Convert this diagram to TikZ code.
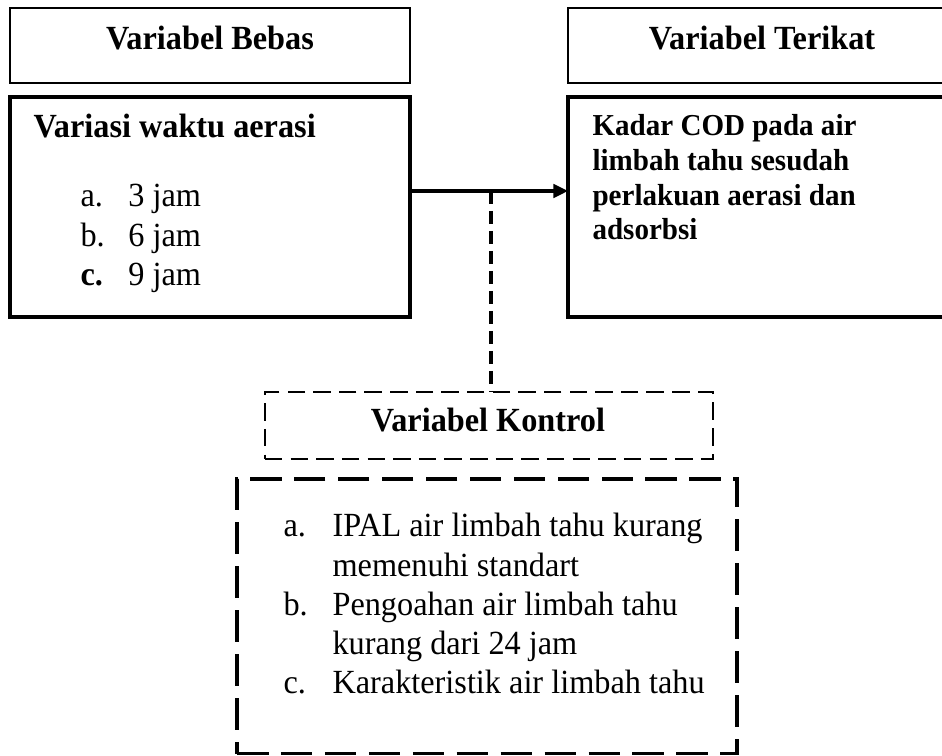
\documentclass[tikz,border=0pt]{standalone}
\usepackage{fontspec}
\setmainfont{Liberation Serif}[FakeStretch=0.955]
\usetikzlibrary{arrows.meta}

\begin{document}
\begin{tikzpicture}[
    x=0.355pt, y=-0.355pt,
    >={Triangle[length=5.2pt, width=4.8pt]},
    font=\fontsize{12}{13.85}\selectfont,
    headbox/.style={draw, line width=0.55pt, inner sep=0pt, outer sep=0pt, anchor=north west},
    bodybox/.style={draw, line width=1.1pt, inner sep=0pt, outer sep=0pt, anchor=north west},
    ctrlhead/.style={draw, line width=0.75pt, dash pattern=on 6.2pt off 2.9pt, inner sep=0pt, outer sep=0pt, anchor=north west},
    ctrlbody/.style={draw, line width=1.1pt, dash pattern=on 11.2pt off 4.4pt, inner sep=0pt, outer sep=0pt, anchor=north west},
    title/.style={anchor=base, inner sep=0pt, font=\fontsize{12}{13.85}\selectfont\bfseries},
    listtext/.style={anchor=base west, inner sep=0pt},
    arrow/.style={->, line width=1.1pt},
    ctrlline/.style={line width=1.1pt, dash pattern=on 4.6pt off 2.5pt}
]
\clip (0,0) rectangle (942,756);

% Variabel bebas
\node[headbox, minimum width=142pt, minimum height=26.6pt] (bebas) at (10,8) {};
\node[title] (bebasLbl) at (210,50) {Variabel Bebas};
\node[bodybox, minimum width=142pt, minimum height=78.1pt] (waktu) at (10,97) {};
\node[title, anchor=base west] (waktuLbl) at (33,138) {Variasi waktu aerasi};
\node[listtext] (waktuList) at (80,207) {%
    \begin{tabular}[t]{@{}p{17pt}@{}l@{}}
        a. & 3 jam\\
        b. & 6 jam\\
        \textbf{c.} & 9 jam
    \end{tabular}};

% Variabel terikat
\node[headbox, minimum width=138.5pt, minimum height=26.6pt] (terikat) at (568,8) {};
\node[title] (terikatLbl) at (762,50) {Variabel Terikat};
\node[bodybox, minimum width=138.5pt, minimum height=78.1pt] (kadar) at (568,97) {};
\node[listtext, font=\fontsize{10.8}{12.3}\selectfont\bfseries] (kadarLbl) at (592,136) {%
    \begin{tabular}[t]{@{}l@{}}
        Kadar COD pada air\\
        limbah tahu sesudah\\
        perlakuan aerasi dan\\
        adsorbsi
    \end{tabular}};

% Variabel kontrol
\node[ctrlhead, minimum width=159pt, minimum height=23.8pt] (kontrol) at (265,392) {};
\node[title] (kontrolLbl) at (488,432) {Variabel Kontrol};
\node[ctrlbody, minimum width=177.5pt, minimum height=97.6pt] (faktor) at (237,479) {};
\node[listtext] (faktorList) at (283,537) {%
    \begin{tabular}[t]{@{}p{17.4pt}@{}l@{}}
        a. & IPAL air limbah tahu kurang\\
           & memenuhi standart\\
        b. & Pengoahan air limbah tahu\\
           & kurang dari 24 jam\\
        c. & Karakteristik air limbah tahu
    \end{tabular}};

% Hubungan antar variabel
\coordinate (cabang) at (491,191);
\draw[arrow] (waktu.east |- cabang) -- (kadar.west |- cabang);
\draw[ctrlline] (cabang) -- (cabang |- kontrol.north);

\end{tikzpicture}
\end{document}
